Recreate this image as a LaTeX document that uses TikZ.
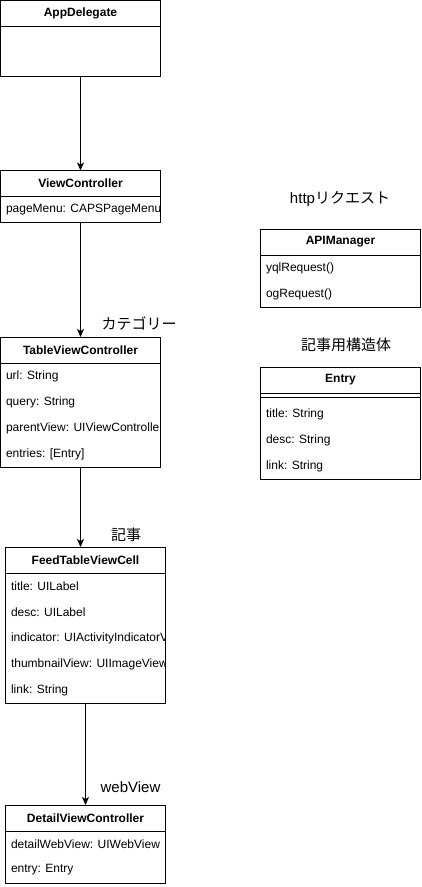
\documentclass[tikz,border=0pt]{standalone}
\usepackage{fontspec}
\setmainfont{Liberation Sans}
\newfontfamily\cjk{Noto Sans CJK JP}
\usetikzlibrary{arrows.meta, positioning}

\begin{document}
\begin{tikzpicture}[
    x=1pt, y=-1pt,
    >={Stealth[length=8pt, width=7pt, inset=2pt]},
    line width=1pt,
    head/.style={draw, minimum width=160pt, minimum height=26pt, inner sep=0pt, outer sep=0pt, font=\fontsize{12}{14}\selectfont\bfseries},
    body/.style={draw, minimum width=160pt, inner sep=0pt, outer sep=0pt},
    field/.style={anchor=west, inner sep=0pt, font=\fontsize{12}{14}\selectfont},
    note/.style={inner sep=0pt, font=\fontsize{15}{18}\selectfont}
]
\useasboundingbox (0,0) rectangle (421,887);

\node (AppDelegate) at (80.5, 13.5) [head] {AppDelegate};
\node (AppDelegateBody) [body, minimum height=50pt, below=0pt of AppDelegate] {};

\node (ViewController) at (80.5, 183.5) [head] {ViewController};
\node (ViewControllerBody) [body, minimum height=26pt, below=0pt of ViewController] {};
\begin{scope}
\clip (ViewControllerBody.south west) rectangle (ViewControllerBody.north east);
\node (pageMenu) at (5.5, 209.5) [field] {pageMenu: CAPSPageMenu};
\end{scope}

\node (TableViewController) at (80.5, 350) [head] {TableViewController};
\node (TableViewControllerBody) [body, minimum height=104pt, below=0pt of TableViewController] {};
\begin{scope}
\clip (TableViewControllerBody.south west) rectangle (TableViewControllerBody.north east);
\node (url) at (5.5, 376) [field] {url: String};
\node (query) at (5.5, 402) [field] {query: String};
\node (parentView) at (5.5, 428) [field] {parentView: UIViewController};
\node (entries) at (5.5, 454) [field] {entries: [Entry]};
\end{scope}

\node (FeedTableViewCell) at (85.5, 560) [head] {FeedTableViewCell};
\node (FeedTableViewCellBody) [body, minimum height=130pt, below=0pt of FeedTableViewCell] {};
\begin{scope}
\clip (FeedTableViewCellBody.south west) rectangle (FeedTableViewCellBody.north east);
\node (cellTitle) at (10.5, 586) [field] {title: UILabel};
\node (cellDesc) at (10.5, 612) [field] {desc: UILabel};
\node (indicator) at (10.5, 638) [field] {indicator: UIActivityIndicatorView};
\node (thumbnailView) at (10.5, 664) [field] {thumbnailView: UIImageView};
\node (cellLink) at (10.5, 690) [field] {link: String};
\end{scope}

\node (DetailViewController) at (85.5, 818) [head] {DetailViewController};
\node (DetailViewControllerBody) [body, minimum height=52pt, below=0pt of DetailViewController] {};
\begin{scope}
\clip (DetailViewControllerBody.south west) rectangle (DetailViewControllerBody.north east);
\node (detailWebView) at (10.5, 844) [field] {detailWebView: UIWebView};
\node (entry) at (10.5, 870) [field] {entry: Entry};
\end{scope}

\node (APIManager) at (340.5, 242) [head] {APIManager};
\node (APIManagerBody) [body, minimum height=52pt, below=0pt of APIManager] {};
\node (yqlRequest) at (265.5, 268) [field] {yqlRequest()};
\node (ogRequest) at (265.5, 294) [field] {ogRequest()};

\node (Entry) at (340.5, 380) [head] {Entry};
\node (EntryBody) [body, minimum height=86pt, below=0pt of Entry] {};
\draw ([yshift=-4pt]EntryBody.north west) -- ([yshift=-4pt]EntryBody.north east);
\node (entryTitle) at (265.5, 414) [field] {title: String};
\node (entryDesc) at (265.5, 440) [field] {desc: String};
\node (entryLink) at (265.5, 466) [field] {link: String};

\node (CategoryLabel) at (139, 323) [note] {\cjk カテゴリー};
\node (ArticleLabel) at (126, 535) [note] {\cjk 記事};
\node (WebViewLabel) at (130.5, 787) [note] {webView};
\node (RequestLabel) at (340, 199) [note] {http{\cjk リクエスト}};
\node (StructLabel) at (346, 345) [note] {\cjk 記事用構造体};

\draw[->] (AppDelegateBody) -- (ViewController);
\draw[->] (ViewControllerBody) -- (TableViewController);
\draw[->] (TableViewControllerBody.south) -- (TableViewControllerBody.south |- FeedTableViewCell.north);
\draw[->] (FeedTableViewCellBody) -- (DetailViewController);

\end{tikzpicture}
\end{document}
